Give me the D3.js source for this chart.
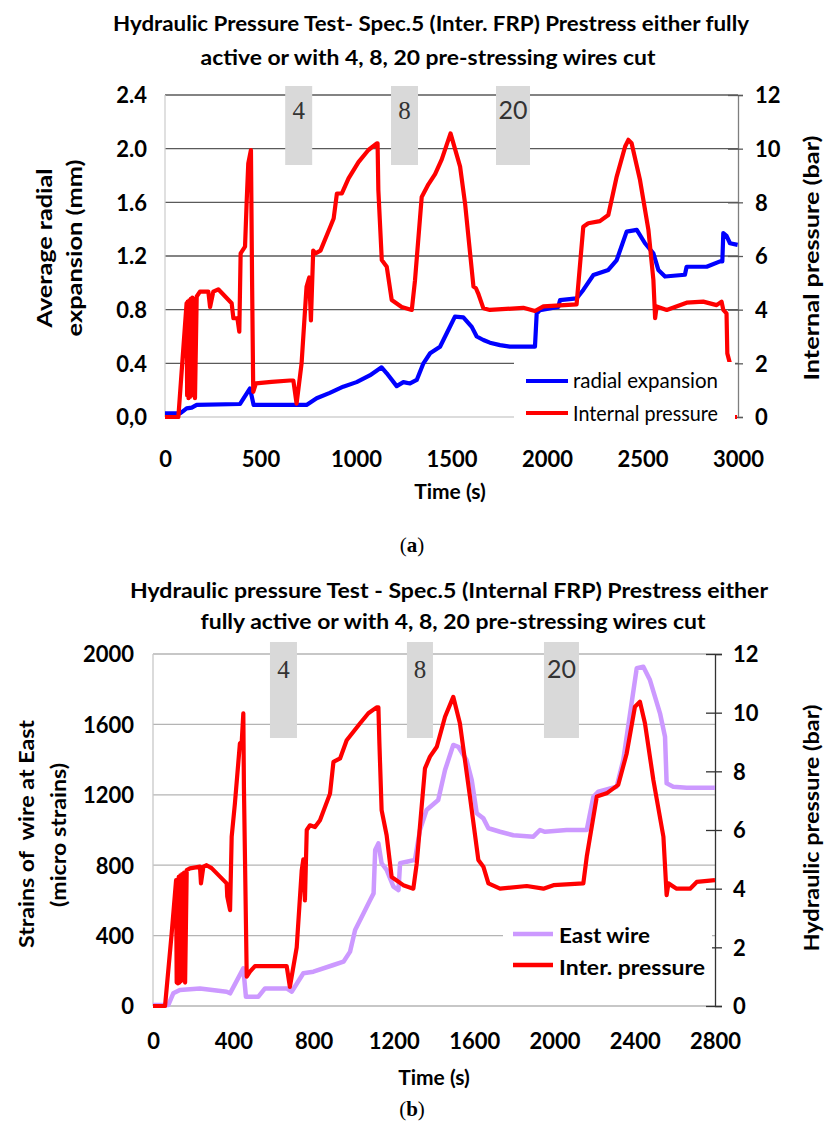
<!DOCTYPE html>
<html>
<head>
<meta charset="utf-8">
<script src="https://cdnjs.cloudflare.com/ajax/libs/d3/7.8.5/d3.min.js"></script>
<style>
  body { margin: 0; background: #fff; }
  svg { display: block; }
  text { font-family: Lato, "Open Sans", sans-serif; fill: #000; }
  text.serif { font-family: "Liberation Serif", "DejaVu Serif", serif; }
</style>
</head>
<body>
<div id="chart"></div>
<script>
// ---- chart (a) data ----
var pressTimeA = [0,70,113,116,119,123,127,131,135,139,143,148,152,157,166,183,227,236,253,279,349,358,379,389,396,419,428,436,450,456,462,476,558,654,672,689,715,741,755,764,776,788,814,866,883,900,926,961,1013,1065,1109,1113,1117,1135,1161,1187,1239,1292,1309,1344,1379,1414,1449,1495,1545,1571,1615,1628,1640,1667,1701,1876,1937,1981,2155,2190,2216,2277,2321,2365,2409,2426,2443,2487,2531,2557,2566,2574,2627,2731,2818,2888,2914,2923,2940,2944,2958,2962,2995];
var pressValA  = [0,0,4.24,0.8,4.3,0.7,4.35,0.75,4.4,0.8,4.45,0.9,4.4,0.7,4.49,4.67,4.67,4.1,4.67,4.76,4.24,3.68,3.68,3.18,6.1,6.35,8.09,9.45,9.95,5.0,0.94,1.25,1.31,1.36,1.36,0.5,1.99,4.85,5.2,3.6,6.2,6.1,6.2,7.1,7.4,8.33,8.33,8.89,9.5,9.95,10.2,10.2,8.46,5.85,5.6,4.36,4.1,3.99,5.1,8.2,8.67,9.05,9.6,10.57,9.33,7.96,4.86,4.8,4.6,4.05,3.99,4.07,3.95,4.12,4.2,7.09,7.22,7.3,7.53,8.96,10.08,10.33,10.2,8.83,6.97,5.11,3.68,4.12,3.99,4.26,4.3,4.17,4.3,3.99,3.86,2.37,1.99,0,0];
var radTimeA = [0,79,100,113,140,166,393,445,464,741,794,863,933,1003,1072,1134,1161,1213,1248,1283,1318,1353,1388,1440,1475,1518,1562,1606,1632,1667,1701,1754,1806,1937,1946,1963,2059,2068,2155,2190,2243,2321,2365,2417,2470,2513,2557,2583,2618,2722,2731,2836,2906,2918,2923,2940,2958,2998];
var radValA  = [0.027,0.027,0.05,0.064,0.07,0.09,0.097,0.213,0.09,0.09,0.14,0.18,0.226,0.26,0.31,0.37,0.326,0.23,0.26,0.25,0.276,0.4,0.475,0.524,0.624,0.748,0.743,0.672,0.6,0.574,0.554,0.536,0.524,0.524,0.77,0.797,0.82,0.871,0.884,0.947,1.058,1.096,1.17,1.382,1.395,1.295,1.22,1.096,1.047,1.06,1.12,1.12,1.16,1.16,1.37,1.35,1.295,1.283];
var xTicksA = [0,500,1000,1500,2000,2500,3000];
var leftTicksA = [0,0.4,0.8,1.2,1.6,2.0,2.4];
var rightTicks = [0,2,4,6,8,10,12];
var cutLabels = ["4","8","20"];
var cutTimesA = [700,1254,1822];

// ---- chart (b) data ----
var pressTimeB = [0,60,93,115,118,121,124,128,132,136,140,145,150,155,160,168,184,234,239,251,267,292,367,370,384,392,408,433,442,450,453,467,483,508,666,682,716,741,749,757,766,782,807,832,882,899,932,965,1031,1073,1114,1123,1128,1139,1164,1189,1247,1297,1314,1355,1380,1414,1455,1496,1529,1579,1621,1646,1671,1729,1862,1945,1995,2144,2161,2211,2260,2318,2360,2401,2426,2451,2493,2543,2559,2568,2609,2676,2709,2800];
var pressValB  = [0,0,2.47,4.29,0.8,4.3,0.77,4.4,0.8,4.45,0.85,4.5,0.9,4.55,0.8,4.63,4.69,4.75,4.18,4.75,4.8,4.7,4.18,3.73,3.27,5.77,6.9,8.95,9.0,9.98,7.47,1.0,1.17,1.36,1.36,0.65,2.0,4.63,5.0,3.6,6.0,6.16,6.1,6.33,7.24,8.32,8.44,9.06,9.63,9.98,10.18,10.18,8.95,6.68,5.82,4.4,4.12,4.0,4.86,8.1,8.5,8.84,9.86,10.54,9.64,7.14,4.98,4.75,4.18,4.0,4.09,4.0,4.12,4.18,5.09,7.14,7.25,7.54,8.61,10.2,10.37,9.64,7.7,5.77,3.78,4.18,4.0,4.0,4.23,4.29];
var eastTimeB = [0,76,101,134,234,367,384,450,463,525,558,666,691,749,799,899,949,982,1007,1049,1082,1099,1107,1123,1139,1164,1198,1223,1231,1264,1305,1330,1363,1421,1455,1496,1521,1562,1588,1613,1646,1671,1729,1795,1895,1928,1953,2061,2161,2194,2219,2310,2343,2377,2410,2443,2476,2526,2551,2559,2592,2659,2800];
var eastValB  = [5,5,72,91,100,81,72,214,53,53,100,100,81,186,195,233,252,309,432,527,602,640,886,924,811,773,678,659,811,820,830,1000,1114,1170,1341,1483,1473,1398,1284,1095,1066,1010,990,970,962,1000,990,1000,1000,1189,1218,1246,1398,1663,1919,1928,1852,1663,1530,1265,1246,1240,1240];
var xTicksB = [0,400,800,1200,1600,2000,2400,2800];
var leftTicksB = [0,400,800,1200,1600,2000];
var cutTimesB = [650,1330,2035];

var svg = d3.select("#chart").append("svg")
    .attr("width", 824)
    .attr("height", 1124);
svg.append("rect").attr("width", 824).attr("height", 1124).attr("fill", "#fff");

function fit(sel, w) {
  return sel.attr("textLength", w).attr("lengthAdjust", "spacingAndGlyphs");
}
function pairs(ts, vs) {
  return ts.map(function(t, i) { return [t, vs[i]]; });
}

// ================= chart (a) =================
var xA = d3.scaleLinear().domain([0, 3000]).range([165, 738]);
var yLA = d3.scaleLinear().domain([0, 2.4]).range([417, 95]);
var yRA = d3.scaleLinear().domain([0, 12]).range([417, 95]);

var gA = svg.append("g");

fit(gA.append("text").attr("x", 431).attr("y", 31).attr("text-anchor", "middle")
  .style("font-size", "20px").style("font-weight", "bold")
  .text("Hydraulic Pressure Test- Spec.5 (Inter. FRP) Prestress either fully"), 636);
fit(gA.append("text").attr("x", 428).attr("y", 65).attr("text-anchor", "middle")
  .style("font-size", "20px").style("font-weight", "bold")
  .text("active or with 4, 8, 20 pre-stressing wires cut"), 455);

// gridlines
gA.selectAll(".grid").data(leftTicksA.filter(function(d) { return d > 0; })).enter()
  .append("line")
  .attr("x1", 165).attr("x2", 738)
  .attr("y1", function(d) { return yLA(d); })
  .attr("y2", function(d) { return yLA(d); })
  .style("stroke", "#5a5a5a").style("stroke-width", 1.3);

// axes lines
gA.append("line").attr("x1", 165).attr("x2", 165).attr("y1", 95).attr("y2", 417)
  .style("stroke", "#d0d0d0").style("stroke-width", 1.3);
gA.append("line").attr("x1", 165).attr("x2", 738).attr("y1", 417).attr("y2", 417)
  .style("stroke", "#d0d0d0").style("stroke-width", 1.3);

// right axis
var rAxisA = d3.axisRight(yRA).tickValues(rightTicks).tickSize(5).tickPadding(12);
var rA = gA.append("g").attr("transform", "translate(738,0)").call(rAxisA);
rA.select(".domain").style("stroke", "#7f7f7f").style("stroke-width", 1.3);
rA.selectAll(".tick line").attr("x1", -10).style("stroke", "#5a5a5a").style("stroke-width", 1.3);
rA.selectAll(".tick text").style("font-size", "22px").style("font-weight", "bold")
  .style("font-family", "Lato, sans-serif").attr("dy", "0.36em");

// left tick labels
var lAxisA = d3.axisLeft(yLA).tickValues(leftTicksA).tickSize(0).tickPadding(18)
  .tickFormat(function(d) { return d === 0 ? "0,0" : d3.format(".1f")(d); });
var lA = gA.append("g").attr("transform", "translate(165,0)").call(lAxisA);
lA.select(".domain").remove();
lA.selectAll(".tick text").style("font-size", "22px").style("font-weight", "bold")
  .style("font-family", "Lato, sans-serif").attr("dy", "0.36em");

// x tick labels
var bAxisA = d3.axisBottom(xA).tickValues(xTicksA).tickSize(0).tickPadding(34).tickFormat(d3.format("d"));
var bA = gA.append("g").attr("transform", "translate(0,417)").call(bAxisA);
bA.select(".domain").remove();
bA.selectAll(".tick text").style("font-size", "22px").style("font-weight", "bold")
  .style("font-family", "Lato, sans-serif");

// axis titles
fit(gA.append("text").attr("transform", "translate(52,248) rotate(-90)").attr("text-anchor", "middle")
  .style("font-size", "21px").style("font-weight", "bold").text("Average radial"), 159);
fit(gA.append("text").attr("transform", "translate(82,248) rotate(-90)").attr("text-anchor", "middle")
  .style("font-size", "21px").style("font-weight", "bold").text("expansion (mm)"), 177);
fit(gA.append("text").attr("transform", "translate(819,258) rotate(-90)").attr("text-anchor", "middle")
  .style("font-size", "21px").style("font-weight", "bold").text("Internal pressure (bar)"), 245);
gA.append("text").attr("x", 450).attr("y", 499).attr("text-anchor", "middle")
  .style("font-size", "21px").style("font-weight", "bold").text("Time (s)");
gA.append("text").attr("class", "serif").attr("x", 412).attr("y", 552).attr("text-anchor", "middle")
  .style("font-size", "21px")
  .html("(<tspan style='font-weight:bold'>a</tspan>)");

// cut boxes
var boxWA = [27, 27, 34];
gA.selectAll(".cutbox").data(cutTimesA).enter().append("rect")
  .attr("x", function(d, i) { return xA(d) - boxWA[i] / 2; })
  .attr("y", 86).attr("width", function(d, i) { return boxWA[i]; }).attr("height", 79)
  .style("fill", "#d9d9d9");
gA.selectAll(".cutlbl").data(cutTimesA).enter().append("text")
  .attr("class", function(d, i) { return i < 2 ? "serif" : "sans"; })
  .attr("x", function(d) { return xA(d); }).attr("y", 119).attr("text-anchor", "middle")
  .style("font-size", "25px").style("fill", "#333")
  .text(function(d, i) { return cutLabels[i]; });

// series
var lineRadA = d3.line().x(function(d) { return xA(d[0]); }).y(function(d) { return yLA(d[1]); });
var linePressA = d3.line().x(function(d) { return xA(d[0]); }).y(function(d) { return yRA(d[1]); });
gA.append("path").datum(pairs(radTimeA, radValA)).attr("d", lineRadA)
  .style("fill", "none").style("stroke", "#0000ff").style("stroke-width", 4.2).style("stroke-linejoin", "round");
gA.append("path").datum(pairs(pressTimeA, pressValA)).attr("d", linePressA)
  .style("fill", "none").style("stroke", "#ff0000").style("stroke-width", 4.2).style("stroke-linejoin", "round");

// legend
var legA = gA.append("g");
legA.append("rect").attr("x", 514).attr("y", 362).attr("width", 221).attr("height", 70).style("fill", "#fff");
var legItemsA = ["radial expansion", "Internal pressure"];
var legColorsA = ["#0000ff", "#ff0000"];
legA.selectAll("line").data(legColorsA).enter().append("line")
  .attr("x1", 526).attr("x2", 568)
  .attr("y1", function(d, i) { return 381 + i * 32; })
  .attr("y2", function(d, i) { return 381 + i * 32; })
  .style("stroke", function(d) { return d; }).style("stroke-width", 4.2);
legA.selectAll("text").data(legItemsA).enter().append("text")
  .attr("x", 573).attr("y", function(d, i) { return 388 + i * 33; })
  .style("font-size", "21px")
  .text(function(d) { return d; })
  .each(function(d, i) { fit(d3.select(this), 145); });

// ================= chart (b) =================
var xB = d3.scaleLinear().domain([0, 2800]).range([153, 715]);
var yLB = d3.scaleLinear().domain([0, 2000]).range([1006, 654]);
var yRB = d3.scaleLinear().domain([0, 12]).range([1006, 654]);

var gB = svg.append("g");

fit(gB.append("text").attr("x", 449).attr("y", 598).attr("text-anchor", "middle")
  .style("font-size", "20px").style("font-weight", "bold")
  .text("Hydraulic pressure Test - Spec.5 (Internal FRP) Prestress either"), 638);
fit(gB.append("text").attr("x", 453).attr("y", 629).attr("text-anchor", "middle")
  .style("font-size", "20px").style("font-weight", "bold")
  .text("fully active or with 4, 8, 20 pre-stressing wires cut"), 505);

gB.selectAll(".grid").data(leftTicksB).enter()
  .append("line")
  .attr("x1", 153).attr("x2", 715)
  .attr("y1", function(d) { return yLB(d); })
  .attr("y2", function(d) { return yLB(d); })
  .style("stroke", "#b4b4b4").style("stroke-width", 1.3);
gB.append("line").attr("x1", 153).attr("x2", 153).attr("y1", 654).attr("y2", 1006)
  .style("stroke", "#c8c8c8").style("stroke-width", 1.3);

var rAxisB = d3.axisRight(yRB).tickValues(rightTicks).tickSize(7).tickPadding(11);
var rB = gB.append("g").attr("transform", "translate(715,0)").call(rAxisB);
rB.select(".domain").style("stroke", "#333").style("stroke-width", 1.3);
rB.selectAll(".tick line").attr("x1", -9).style("stroke", "#333").style("stroke-width", 1.3);
rB.selectAll(".tick text").style("font-size", "22px").style("font-weight", "bold")
  .style("font-family", "Lato, sans-serif").attr("dy", "0.36em");

var lAxisB = d3.axisLeft(yLB).tickValues(leftTicksB).tickSize(0).tickPadding(19).tickFormat(d3.format("d"));
var lB = gB.append("g").attr("transform", "translate(153,0)").call(lAxisB);
lB.select(".domain").remove();
lB.selectAll(".tick text").style("font-size", "22px").style("font-weight", "bold")
  .style("font-family", "Lato, sans-serif").attr("dy", "0.36em");

var bAxisB = d3.axisBottom(xB).tickValues(xTicksB).tickSize(0).tickPadding(27).tickFormat(d3.format("d"));
var bB = gB.append("g").attr("transform", "translate(0,1006)").call(bAxisB);
bB.select(".domain").remove();
bB.selectAll(".tick text").style("font-size", "22px").style("font-weight", "bold")
  .style("font-family", "Lato, sans-serif");

fit(gB.append("text").attr("transform", "translate(34,834) rotate(-90)").attr("text-anchor", "middle")
  .style("white-space", "pre")
  .style("font-size", "21px").style("font-weight", "bold").text("Strains of  wire at East"), 228);
fit(gB.append("text").attr("transform", "translate(66,835) rotate(-90)").attr("text-anchor", "middle")
  .style("font-size", "21px").style("font-weight", "bold").text("(micro strains)"), 144);
fit(gB.append("text").attr("transform", "translate(819,828) rotate(-90)").attr("text-anchor", "middle")
  .style("font-size", "21px").style("font-weight", "bold").text("Hydraulic pressure (bar)"), 247);
gB.append("text").attr("x", 434).attr("y", 1085).attr("text-anchor", "middle")
  .style("font-size", "21px").style("font-weight", "bold").text("Time (s)");
gB.append("text").attr("class", "serif").attr("x", 412).attr("y", 1116).attr("text-anchor", "middle")
  .style("font-size", "21px")
  .html("(<tspan style='font-weight:bold'>b</tspan>)");

var boxWB = [27, 26, 35];
gB.selectAll(".cutbox").data(cutTimesB).enter().append("rect")
  .attr("x", function(d, i) { return xB(d) - boxWB[i] / 2; })
  .attr("y", 642).attr("width", function(d, i) { return boxWB[i]; }).attr("height", 96)
  .style("fill", "#d9d9d9");
gB.selectAll(".cutlbl").data(cutTimesB).enter().append("text")
  .attr("class", function(d, i) { return i < 2 ? "serif" : "sans"; })
  .attr("x", function(d) { return xB(d); }).attr("y", 678).attr("text-anchor", "middle")
  .style("font-size", "25px").style("fill", "#333")
  .text(function(d, i) { return cutLabels[i]; });

var lineEastB = d3.line().x(function(d) { return xB(d[0]); }).y(function(d) { return yLB(d[1]); });
var linePressB = d3.line().x(function(d) { return xB(d[0]); }).y(function(d) { return yRB(d[1]); });
gB.append("path").datum(pairs(eastTimeB, eastValB)).attr("d", lineEastB)
  .style("fill", "none").style("stroke", "#cc99ff").style("stroke-width", 4.5).style("stroke-linejoin", "round");
gB.append("path").datum(pairs(pressTimeB, pressValB)).attr("d", linePressB)
  .style("fill", "none").style("stroke", "#ff0000").style("stroke-width", 4.2).style("stroke-linejoin", "round");

var legB = gB.append("g");
legB.append("rect").attr("x", 503).attr("y", 915).attr("width", 209).attr("height", 72).style("fill", "#fff");
var legItemsB = ["East wire", "Inter. pressure"];
var legColorsB = ["#cc99ff", "#ff0000"];
legB.selectAll("line").data(legColorsB).enter().append("line")
  .attr("x1", 513).attr("x2", 553)
  .attr("y1", function(d, i) { return 934 + i * 31; })
  .attr("y2", function(d, i) { return 934 + i * 31; })
  .style("stroke", function(d) { return d; }).style("stroke-width", 4.5);
legB.selectAll("text").data(legItemsB).enter().append("text")
  .attr("x", 559).attr("y", function(d, i) { return 943 + i * 32; })
  .style("font-size", "21px").style("font-weight", "bold")
  .text(function(d) { return d; })
  .each(function(d, i) { fit(d3.select(this), i === 0 ? 91 : 146); });
</script>
</body>
</html>
